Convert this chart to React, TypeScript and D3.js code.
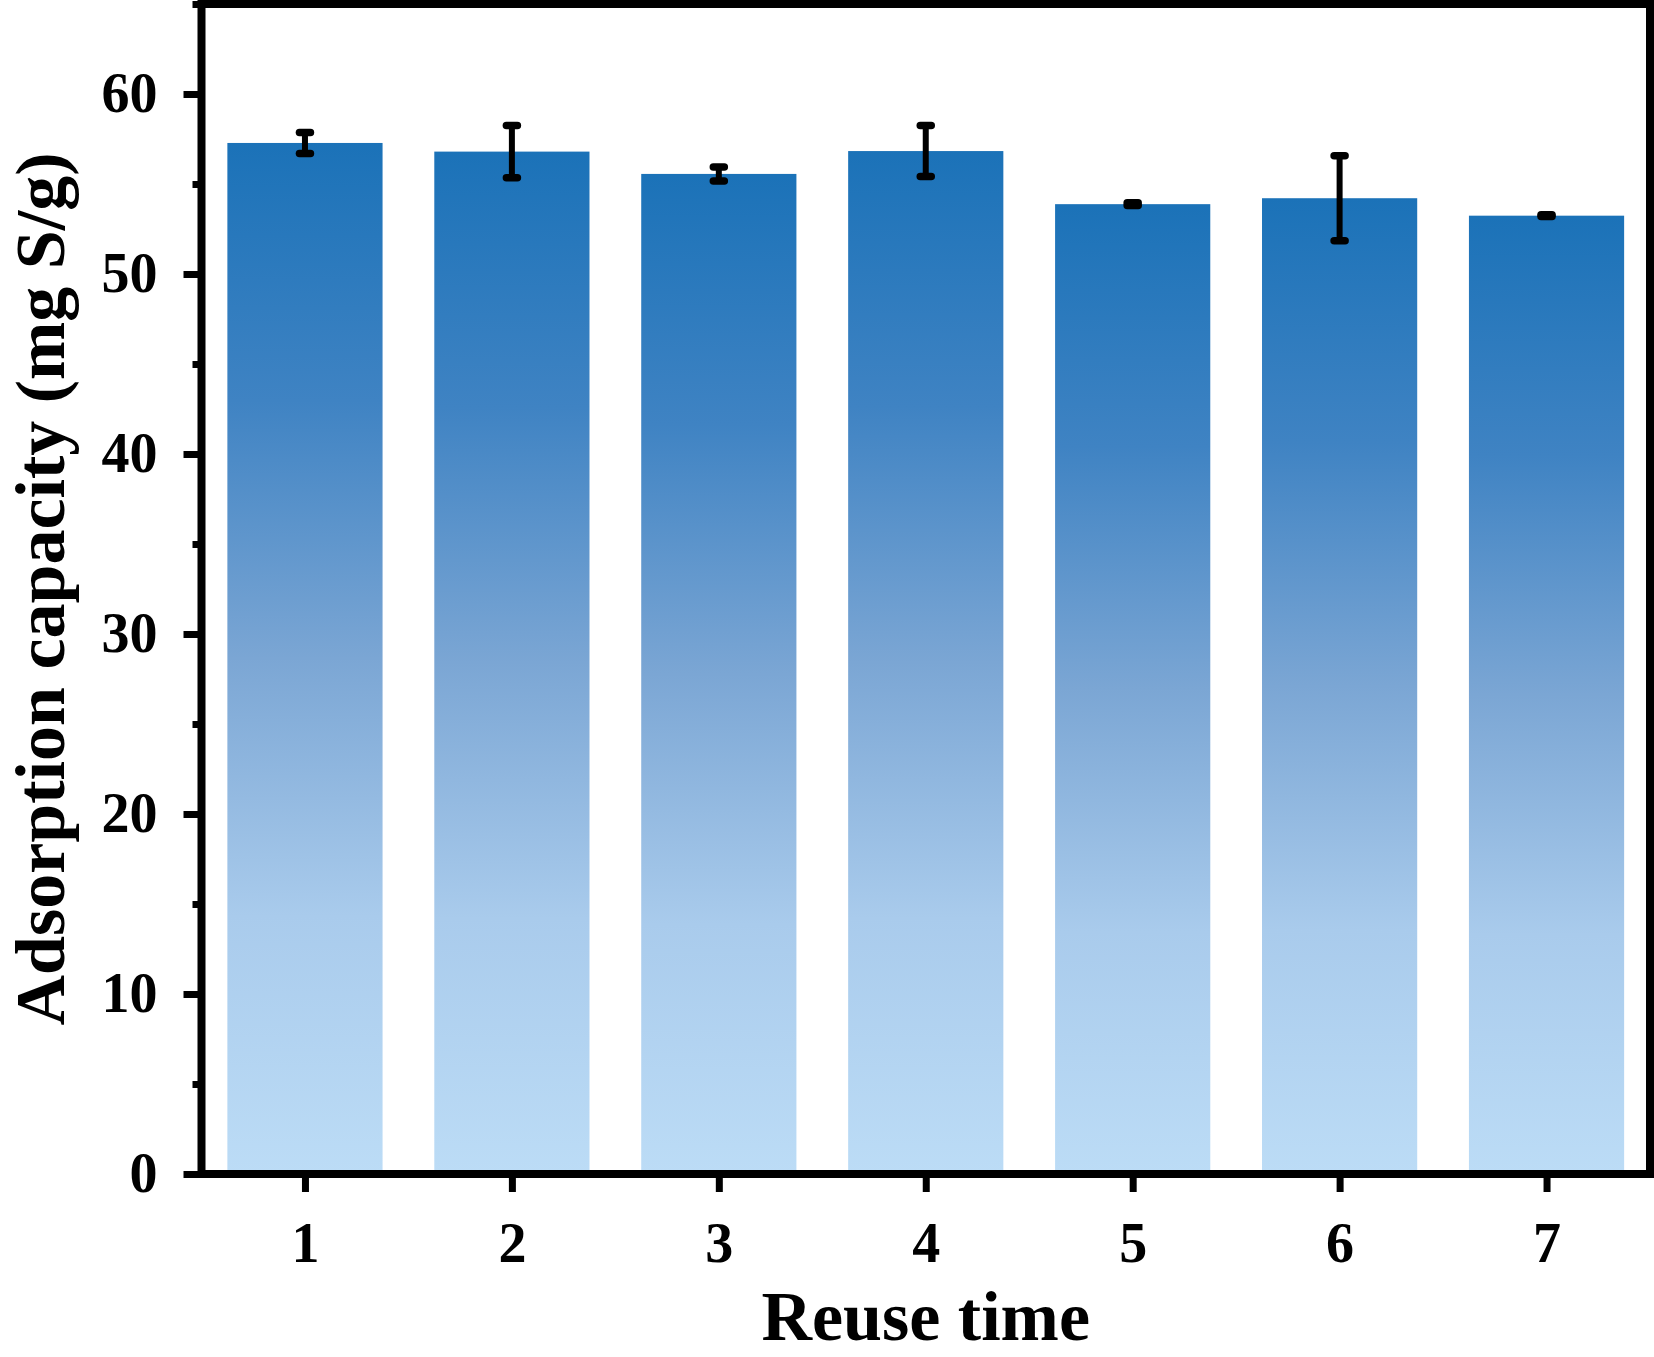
import React, { useEffect, useRef } from 'react';
import * as d3 from 'd3';

// reuse cycles and measured adsorption capacity (mg S/g)
const reuseTimes = [1, 2, 3, 4, 5, 6, 7];
const capacity = [57.28, 56.8, 55.56, 56.83, 53.88, 54.21, 53.24];
const capacityErr = [0.58, 1.45, 0.39, 1.42, 0.08, 2.36, 0.05];
const yMajorTicks = [0, 10, 20, 30, 40, 50, 60];
const yMinorTicks = [5, 15, 25, 35, 45, 55, 65];

const FONT = '"Liberation Serif", "Times New Roman", serif';

const App: React.FC = () => {
  const svgRef = useRef<SVGSVGElement | null>(null);

  useEffect(() => {
    const svg = d3.select(svgRef.current);
    const width = 1654;
    const height = 1357;
    const margin = { top: 4, right: 4, bottom: 183, left: 201.5 };

    svg.selectAll('*').remove();

    const xScale = d3
      .scaleLinear()
      .domain([0.5, 7.5])
      .range([margin.left, width - margin.right]);

    const yScale = d3
      .scaleLinear()
      .domain([0, 65])
      .range([height - margin.bottom, margin.top]);

    const barW = 0.75 * (xScale(2) - xScale(1));

    // gradient fill, dark at top of each bar
    const defs = svg.append('defs');
    const grad = defs
      .append('linearGradient')
      .attr('id', 'barGrad')
      .attr('x1', 0)
      .attr('y1', 0)
      .attr('x2', 0)
      .attr('y2', 1);
    [
      [0, '#1b72b8'],
      [0.25, '#3f83c3'],
      [0.5, '#7ba6d4'],
      [0.75, '#a9cbec'],
      [1, '#bcdcf6'],
    ].forEach(([o, c]) => grad.append('stop').attr('offset', o as number).attr('stop-color', c as string));

    const data = reuseTimes.map((t, i) => ({ t, v: capacity[i], e: capacityErr[i] }));

    // bars
    svg
      .selectAll('.bar')
      .data(data)
      .join('rect')
      .attr('class', 'bar')
      .attr('x', (d) => xScale(d.t) - barW / 2)
      .attr('y', (d) => yScale(d.v))
      .attr('width', barW)
      .attr('height', (d) => yScale(0) - yScale(d.v))
      .attr('fill', 'url(#barGrad)');

    // error bars
    const err = svg.append('g').attr('stroke', '#000').attr('stroke-linecap', 'round');
    err
      .selectAll('.err-v')
      .data(data)
      .join('line')
      .attr('x1', (d) => xScale(d.t))
      .attr('x2', (d) => xScale(d.t))
      .attr('y1', (d) => yScale(d.v + d.e))
      .attr('y2', (d) => yScale(d.v - d.e))
      .attr('stroke-width', 6);
    [1, -1].forEach((s) => {
      err
        .selectAll(`.cap${s}`)
        .data(data)
        .join('line')
        .attr('x1', (d) => xScale(d.t) - 5.5)
        .attr('x2', (d) => xScale(d.t) + 5.5)
        .attr('y1', (d) => yScale(d.v + s * d.e))
        .attr('y2', (d) => yScale(d.v + s * d.e))
        .attr('stroke-width', 7.5);
    });

    // axes
    const styleAxis = (g: any) => {
      g.select('.domain').remove();
      g.selectAll('line').attr('stroke', '#000').attr('stroke-width', 7);
      g.selectAll('text')
        .attr('fill', '#000')
        .style('font-family', FONT)
        .style('font-weight', 'bold')
        .style('font-size', '56px');
    };

    svg
      .append('g')
      .attr('transform', `translate(${margin.left},0)`)
      .call(d3.axisLeft(yScale).tickValues(yMinorTicks).tickSize(9).tickFormat(() => ''))
      .call(styleAxis);

    svg
      .append('g')
      .attr('transform', `translate(${margin.left},0)`)
      .call(d3.axisLeft(yScale).tickValues(yMajorTicks).tickSize(18).tickPadding(26))
      .call(styleAxis);

    svg
      .append('g')
      .attr('transform', `translate(0,${height - margin.bottom})`)
      .call(d3.axisBottom(xScale).tickValues(reuseTimes).tickSize(18).tickPadding(30).tickFormat(d3.format('d')))
      .call(styleAxis);

    // frame
    svg
      .append('rect')
      .attr('x', margin.left)
      .attr('y', margin.top)
      .attr('width', width - margin.right - margin.left)
      .attr('height', height - margin.bottom - margin.top)
      .attr('fill', 'none')
      .attr('stroke', '#000')
      .attr('stroke-width', 8);

    // axis titles
    svg
      .append('text')
      .attr('x', (margin.left + width - margin.right) / 2)
      .attr('y', 1340)
      .attr('text-anchor', 'middle')
      .style('font-family', FONT)
      .style('font-weight', 'bold')
      .style('font-size', '70px')
      .text('Reuse time');

    svg
      .append('text')
      .attr('transform', `translate(64,${(margin.top + height - margin.bottom) / 2}) rotate(-90)`)
      .attr('text-anchor', 'middle')
      .style('font-family', FONT)
      .style('font-weight', 'bold')
      .style('font-size', '70px')
      .text('Adsorption capacity (mg S/g)');
  }, []);

  return (
    <svg
      ref={svgRef}
      width={1654}
      height={1357}
      style={{ position: 'absolute', left: 0, top: 0, background: '#fff' }}
    ></svg>
  );
};

export default App;
